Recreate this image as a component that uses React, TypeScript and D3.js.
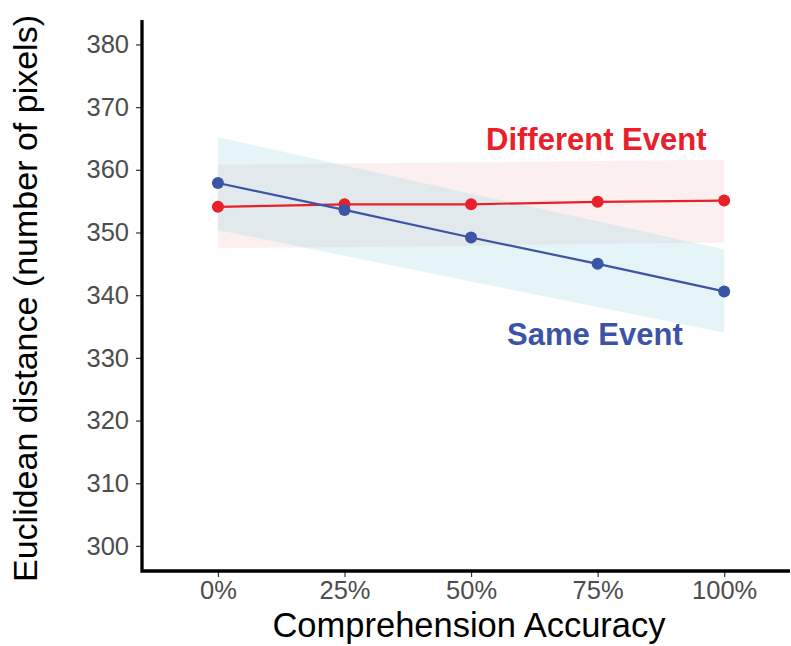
import React, { useEffect, useRef } from "react";
import * as d3 from "d3";

const accuracy = [0, 0.25, 0.5, 0.75, 1];
const xTicks = [0, 0.25, 0.5, 0.75, 1];
const yTicks = [300, 310, 320, 330, 340, 350, 360, 370, 380];

const sameMean = [357.9, 353.6, 349.2, 345.0, 340.6];
const sameUpper = [365.2, 360.7, 356.2, 351.8, 347.3];
const sameLower = [350.4, 346.3, 342.2, 338.1, 334.0];

const diffMean = [354.1, 354.5, 354.5, 354.9, 355.1];
const diffUpper = [360.8, 361.0, 361.2, 361.4, 361.6];
const diffLower = [347.5, 347.7, 347.9, 348.2, 348.4];

const App: React.FC = () => {
  const svgRef = useRef<SVGSVGElement | null>(null);

  useEffect(() => {
    document.body.style.margin = "0";
    const width = 791, height = 646;
    const svg = d3.select(svgRef.current).attr("width", width).attr("height", height);
    svg.selectAll("*").remove();

    const left = 142, right = 790, top = 20, bottom = 571;
    const x = d3.scaleLinear().domain([-0.15, 1.13]).range([left, right]);
    const y = d3.scaleLinear().domain([296, 383.9]).range([bottom, top]);

    const font = "Liberation Sans, Arial, sans-serif";

    const band = (up: number[], lo: number[]) =>
      d3.area<number>()
        .x((_, i) => x(accuracy[i]))
        .y0((_, i) => y(lo[i]))
        .y1((_, i) => y(up[i]))(accuracy);

    // confidence bands
    svg.append("path").attr("d", band(diffUpper, diffLower)!)
      .attr("fill", "rgb(245,202,202)").attr("fill-opacity", 0.3);
    svg.append("path").attr("d", band(sameUpper, sameLower)!)
      .attr("fill", "rgb(165,218,228)").attr("fill-opacity", 0.3);

    const line = (vals: number[]) =>
      d3.line<number>().x((_, i) => x(accuracy[i])).y((_, i) => y(vals[i]))(accuracy);

    const series = [
      { vals: diffMean, color: "#e8202a" },
      { vals: sameMean, color: "#3b54a6" },
    ];
    series.forEach(s => {
      svg.append("path").attr("d", line(s.vals)!)
        .attr("fill", "none").attr("stroke", s.color).attr("stroke-width", 2.2);
      svg.append("g").selectAll("circle").data(s.vals).join("circle")
        .attr("cx", (_, i) => x(accuracy[i]))
        .attr("cy", d => y(d))
        .attr("r", 6)
        .attr("fill", s.color);
    });

    // axes
    const xAxis = svg.append("g").attr("transform", `translate(0,${bottom})`)
      .call(d3.axisBottom(x).tickValues(xTicks).tickFormat(d3.format(".0%")).tickSize(6).tickPadding(4));
    const yAxis = svg.append("g").attr("transform", `translate(${left},0)`)
      .call(d3.axisLeft(y).tickValues(yTicks).tickSize(6).tickPadding(7));

    [xAxis, yAxis].forEach(g => {
      g.select(".domain").remove();
      g.selectAll(".tick line").attr("stroke", "#333").attr("stroke-width", 1.2);
      g.selectAll(".tick text").attr("fill", "#4d4d4d")
        .style("font-family", font).style("font-size", "25.5px");
    });

    svg.append("path")
      .attr("d", `M${left},${top}V${bottom}H${right}`)
      .attr("fill", "none").attr("stroke", "#000").attr("stroke-width", 3.3);

    // titles
    svg.append("text")
      .attr("x", (left + right) / 2 + 3).attr("y", 637)
      .attr("text-anchor", "middle")
      .style("font-family", font).style("font-size", "34.5px")
      .text("Comprehension Accuracy");

    svg.append("text")
      .attr("transform", `translate(37,${(top + bottom) / 2 + 3}) rotate(-90)`)
      .attr("text-anchor", "middle")
      .style("font-family", font).style("font-size", "34px")
      .text("Euclidean distance (number of pixels)");

    // labels
    svg.append("text")
      .attr("x", 486).attr("y", 150)
      .attr("fill", "#e8202a")
      .style("font-family", font).style("font-size", "31px").style("font-weight", "bold")
      .text("Different Event");
    svg.append("text")
      .attr("x", 507).attr("y", 345)
      .attr("fill", "#3b54a6")
      .style("font-family", font).style("font-size", "31px").style("font-weight", "bold")
      .text("Same Event");
  }, []);

  return <svg ref={svgRef}></svg>;
};

export default App;
